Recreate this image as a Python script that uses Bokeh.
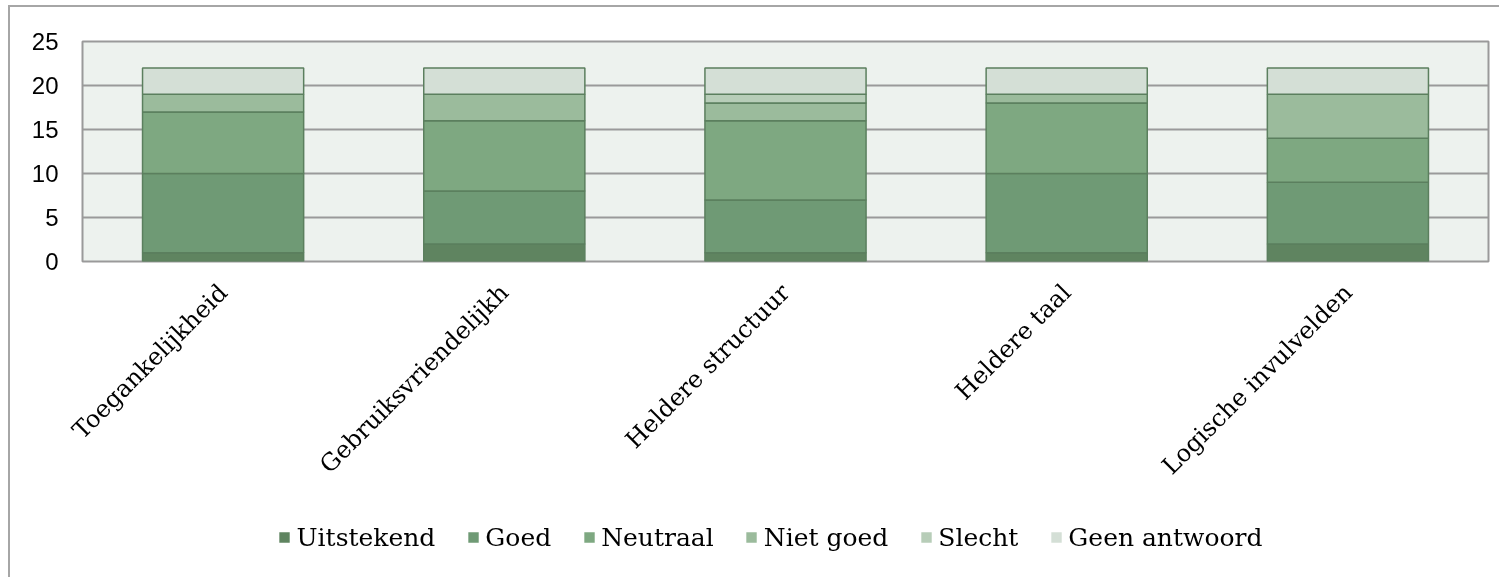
import math
from bokeh.plotting import figure
from bokeh.models import Legend, ColumnDataSource, FixedTicker
from bokeh.embed import file_html
from bokeh.resources import INLINE

categories = ["Toegankelijkheid", "Gebruiksvriendelijkh", "Heldere structuur",
              "Heldere taal", "Logische invulvelden"]
series_names = ["Uitstekend", "Goed", "Neutraal", "Niet goed", "Slecht", "Geen antwoord"]
uitstekend = [1, 2, 1, 1, 2]
goed = [9, 6, 6, 9, 7]
neutraal = [7, 8, 9, 8, 5]
niet_goed = [2, 3, 2, 1, 5]
slecht = [0, 0, 1, 0, 0]
geen_antwoord = [3, 3, 3, 3, 3]
y_ticks = [0, 5, 10, 15, 20, 25]

colors = ["#5f8460", "#6f9a75", "#7ea881", "#9bbb9c", "#b7cdb8", "#d4dfd6"]
outline = "#5b7f5e"

source = ColumnDataSource(data={
    "cat": categories,
    "Uitstekend": uitstekend,
    "Goed": goed,
    "Neutraal": neutraal,
    "Niet goed": niet_goed,
    "Slecht": slecht,
    "Geen antwoord": geen_antwoord,
})

p = figure(x_range=categories, y_range=(0, 25), frame_width=1406, frame_height=220,
           output_backend="svg", toolbar_location=None,
           min_border_left=72, min_border_top=34, min_border_right=11,
           min_border_bottom=320,
           background_fill_color="#edf2ee", border_fill_color="white",
           outline_line_color="#9a9a9a", outline_line_width=2)
p.styles = {"border-left": "2px solid #a6a6a6", "border-top": "2px solid #a6a6a6",
            "position": "fixed", "left": "8px", "top": "5px"}

renderers = p.vbar_stack(series_names, x="cat", width=0.573, color=colors,
                         line_color=outline, line_width=1.5, source=source)

p.xgrid.grid_line_color = None
p.ygrid.grid_line_color = "#9a9a9a"
p.ygrid.grid_line_width = 2
p.ygrid.ticker = FixedTicker(ticks=y_ticks)

p.yaxis.ticker = FixedTicker(ticks=y_ticks)
p.yaxis.axis_line_color = None
p.yaxis.major_tick_line_color = None
p.yaxis.minor_tick_line_color = None
p.yaxis.major_tick_out = 0
p.yaxis.major_label_standoff = 24
p.yaxis.major_label_text_font = "Liberation Sans"
p.yaxis.major_label_text_font_size = "24px"
p.yaxis.major_label_text_color = "black"

p.xaxis.axis_line_color = None
p.xaxis.major_tick_line_color = None
p.xaxis.major_tick_out = 0
p.xaxis.major_label_orientation = math.pi / 4
p.xaxis.major_label_standoff = 27
p.xaxis.major_label_text_font = "DejaVu Serif"
p.xaxis.major_label_text_font_size = "24px"
p.xaxis.major_label_text_color = "black"

# legend in its own small figure (same stacked bars, kept far out of view),
# placed under the rotated axis labels
lf = figure(x_range=categories, y_range=(1000, 1001), width=1100, height=40,
            output_backend="svg", toolbar_location=None,
            min_border=0, x_axis_location=None, y_axis_location=None,
            outline_line_color=None, background_fill_color="white",
            border_fill_color="white")
lf.grid.visible = False
legend_renderers = lf.vbar_stack(series_names, x="cat", width=0.573, fill_color=colors,
                                 line_color=None, source=source)
legend = Legend(items=[(name, [r]) for name, r in zip(series_names, legend_renderers)],
                orientation="horizontal", location="center",
                label_text_font="DejaVu Serif", label_text_font_size="25px",
                label_text_color="black",
                glyph_width=13, glyph_height=13, spacing=31, label_standoff=6,
                border_line_color=None, background_fill_alpha=0, padding=0,
                margin=0)
lf.add_layout(legend, "center")
lf.styles = {"position": "fixed", "left": "220px", "top": "517px"}

open("out.html", "w").write(file_html([p, lf], INLINE))
